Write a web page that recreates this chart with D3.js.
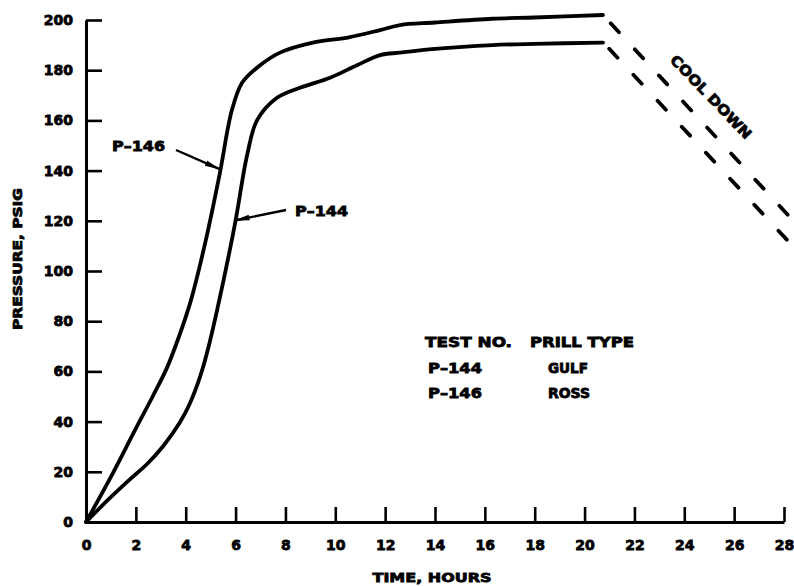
<!DOCTYPE html>
<html>
<head>
<meta charset="utf-8">
<script src="https://cdn.jsdelivr.net/npm/d3@7"></script>
<style>
  html, body { margin: 0; padding: 0; background: #fff; }
  svg { display: block; }
  text { font-family: "DejaVu Sans", "Liberation Sans", sans-serif; font-weight: bold; fill: #000; }
</style>
</head>
<body>
<svg id="chart" width="794" height="586"></svg>
<script>
// Pressure build-up during the test runs, then the cool-down legs
const hours146 = [0, 1.08, 1.97, 2.7, 3.25, 3.77, 4.2, 4.8, 5.37, 5.85, 6.26, 6.86, 7.78, 9.1, 10.5, 11.8, 12.6, 14, 16.3, 18, 20.74];
const psig146  = [0, 19.5, 36.7, 50.5, 61.5, 75, 88, 112, 139, 164, 175, 181, 187, 191, 193, 196, 198, 199, 200.5, 201, 202];

const hours144 = [0, 0.9, 1.76, 2.44, 3.1, 3.77, 4.17, 4.57, 4.85, 5.25, 5.98, 6.46, 6.86, 7.66, 8.58, 9.79, 10.87, 11.8, 12.6, 14, 16.3, 18, 20.74];
const psig144  = [0, 9, 17, 23, 30.3, 39.7, 47.3, 57.7, 67.2, 84, 119, 146, 160, 169, 173, 177, 182, 186, 187, 188.5, 190, 190.5, 191];

const coolHours146 = [20.74, 28.16];
const coolPsig146  = [202, 122.3];
const coolHours144 = [20.74, 28.12];
const coolPsig144  = [191.2, 112.4];

const xTicks = [0, 2, 4, 6, 8, 10, 12, 14, 16, 18, 20, 22, 24, 26, 28];
const yTicks = [0, 20, 40, 60, 80, 100, 120, 140, 160, 180, 200];

const legendHeader = ["TEST NO.", "PRILL TYPE"];
const legendTests  = ["P\u2013144", "P\u2013146"];
const legendPrill  = ["GULF", "ROSS"];

const svg = d3.select("#chart");
const x = d3.scaleLinear().domain([0, 28]).range([86, 784]);
const y = d3.scaleLinear().domain([0, 200]).range([522, 20]);

// Thicken the lettering a little, like heavy stencil type
const heavy = sel => sel.attr("stroke", "#000").attr("stroke-width", 0.8).attr("paint-order", "stroke");
const fit = (sel, w) => sel.attr("textLength", w).attr("lengthAdjust", "spacingAndGlyphs");

// Axes: ticks point into the plot
const xAxis = svg.append("g")
  .attr("transform", `translate(0,${y(0)})`)
  .call(d3.axisBottom(x).tickValues(xTicks).tickSizeInner(-15).tickSizeOuter(0).tickPadding(18).tickFormat(d3.format("d")));
const yAxis = svg.append("g")
  .attr("transform", `translate(${x(0)},0)`)
  .call(d3.axisLeft(y).tickValues(yTicks).tickSizeInner(-16).tickSizeOuter(0).tickPadding(13).tickFormat(d3.format("d")));

[xAxis, yAxis].forEach(g => {
  g.select(".domain").attr("stroke", "#000").attr("stroke-width", 3);
  g.selectAll(".tick line").attr("stroke", "#000").attr("stroke-width", 2.6);
  g.selectAll(".tick text").attr("font-size", 14).attr("font-family", "DejaVu Sans").attr("font-weight", "bold").call(heavy);
});

// Pressure curves
const line = d3.line().x(d => x(d[0])).y(d => y(d[1])).curve(d3.curveCatmullRom.alpha(0.5));
const runs = [
  d3.zip(hours146, psig146),
  d3.zip(hours144, psig144)
];
svg.selectAll("path.run").data(runs).join("path")
  .attr("class", "run")
  .attr("d", line)
  .attr("fill", "none")
  .attr("stroke", "#000")
  .attr("stroke-width", 3.8)
  .attr("stroke-linejoin", "round")
  .attr("stroke-linecap", "round");

// Cool-down legs, dashed
const coolLegs = [
  { pts: d3.zip(coolHours146, coolPsig146), offset: 24.2 },
  { pts: d3.zip(coolHours144, coolPsig144), offset: 26.4 }
];
svg.selectAll("path.cool").data(coolLegs).join("path")
  .attr("class", "cool")
  .attr("d", d => d3.line().x(p => x(p[0])).y(p => y(p[1]))(d.pts))
  .attr("fill", "none")
  .attr("stroke", "#000")
  .attr("stroke-width", 3.8)
  .attr("stroke-linecap", "round")
  .attr("stroke-dasharray", "12.2,23.3")
  .attr("stroke-dashoffset", d => d.offset);

// Arrowhead for the curve callouts
svg.append("defs").append("marker")
  .attr("id", "tip")
  .attr("viewBox", "0 0 16 8")
  .attr("refX", 15).attr("refY", 4)
  .attr("markerWidth", 16).attr("markerHeight", 8)
  .attr("markerUnits", "userSpaceOnUse")
  .attr("orient", "auto")
  .append("path").attr("d", "M0,1.2 L16,4 L0,6.8 Z").attr("fill", "#000");

function interpAt(hrs, vals, h) {
  const i = d3.bisectRight(hrs, h) - 1;
  const t = (h - hrs[i]) / (hrs[i + 1] - hrs[i]);
  return vals[i] + t * (vals[i + 1] - vals[i]);
}
// Callout labels, with the arrow tip landing on the curve at the given hour
function callout(label, hrs, vals, atHour, tx, ty, sx, sy) {
  const px = x(atHour) - 1;
  const py = y(interpAt(hrs, vals, atHour));
  svg.append("line")
    .attr("x1", sx).attr("y1", sy).attr("x2", px).attr("y2", py)
    .attr("stroke", "#000").attr("stroke-width", 2.4)
    .attr("marker-end", "url(#tip)");
  svg.append("text").attr("x", tx).attr("y", ty)
    .attr("font-size", 14).text(label).call(heavy).call(fit, 53);
}
callout(legendTests[1], hours146, psig146, 5.4, 112, 151, 176, 150);
callout(legendTests[0], hours144, psig144, 6.0, 295, 216, 286, 210);

// Legend table
const legend = svg.append("g").attr("font-size", 14);
legend.selectAll("text.hdr").data(legendHeader).join("text")
  .attr("x", (d, i) => [425, 530][i]).attr("y", 347).text(d => d)
  .call(heavy).each(function (d, i) { d3.select(this).call(fit, [87, 104][i]); });
legend.selectAll("text.test").data(legendTests).join("text")
  .attr("x", 428).attr("y", (d, i) => 373 + i * 25).text(d => d).call(heavy).call(fit, 54);
legend.selectAll("text.prill").data(legendPrill).join("text")
  .attr("x", 548).attr("y", (d, i) => 373 + i * 25).text(d => d)
  .call(heavy).each(function (d, i) { d3.select(this).call(fit, [40, 42][i]); });

// Cool-down note along the dashed legs
svg.append("text")
  .attr("transform", "translate(711,97) rotate(46)")
  .attr("text-anchor", "middle").attr("dy", "0.35em")
  .attr("font-size", 14).text("COOL DOWN").call(heavy).call(fit, 110);

// Axis titles
svg.append("text")
  .attr("transform", "translate(22,259) rotate(-90)")
  .attr("text-anchor", "middle")
  .attr("font-size", 13).text("PRESSURE, PSIG").call(heavy).call(fit, 142);
svg.append("text")
  .attr("x", 432).attr("y", 582)
  .attr("text-anchor", "middle")
  .attr("font-size", 13).text("TIME, HOURS").call(heavy).call(fit, 119);
</script>
</body>
</html>
